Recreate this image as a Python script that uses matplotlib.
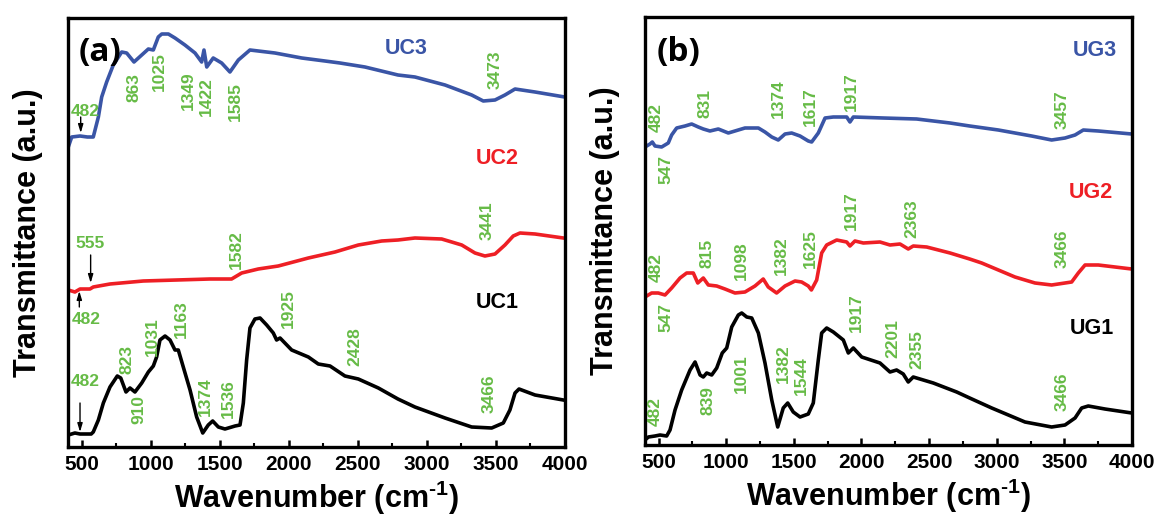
import matplotlib
matplotlib.use("Agg")
import matplotlib.pyplot as plt
from matplotlib.ticker import MultipleLocator

plt.rcParams['font.family'] = ['Liberation Sans', 'DejaVu Sans']
plt.rcParams['font.weight'] = 'bold'
plt.rcParams['mathtext.fontset'] = 'custom'
plt.rcParams['mathtext.rm'] = 'Liberation Sans:bold'
plt.rcParams['mathtext.bf'] = 'Liberation Sans:bold'
plt.rcParams['mathtext.default'] = 'bf'

# ---------------- Panel (a) data ----------------
uc3_w = [402, 427, 487, 540, 583, 620, 644, 680, 728, 789, 825, 878, 934, 982, 1018, 1054, 1079,
         1127, 1175, 1247, 1320, 1368, 1385, 1405, 1452, 1513, 1573, 1634, 1718, 1899, 2093, 2261,
         2370, 2551, 2790, 2913, 3131, 3324, 3408, 3493, 3565, 3638, 3783, 3998]
uc3_t = [300, 310, 311, 310, 310, 330, 350, 365, 382, 395, 394, 385, 392, 398, 397, 410, 413,
         413, 409, 402, 394, 385, 397, 380, 389, 384, 375, 387, 397, 394, 389, 386,
         384, 380, 372, 370, 362, 352, 346, 347, 352, 358, 355, 350]

uc2_w = [402, 450, 487, 559, 583, 704, 945, 1187, 1428, 1537, 1585, 1658, 1778, 1923, 2141, 2334,
         2503, 2672, 2790, 2913, 3107, 3252, 3348, 3420, 3493, 3565, 3625, 3674, 3783, 3988]
uc2_t = [157, 155, 158, 158, 160, 163, 166, 167, 168, 168, 168, 174, 178, 181, 189, 195,
         202, 206, 207, 209, 208, 202, 194, 191, 193, 202, 211, 214, 213, 209]

uc1_w = [402, 450, 487, 568, 583, 620, 656, 704, 757, 782, 820, 849, 885, 934, 982, 1018, 1042,
         1066, 1103, 1139, 1175, 1199, 1235, 1284, 1332, 1376, 1416, 1448, 1489, 1537, 1586, 1610,
         1646, 1670, 1694, 1718, 1754, 1791, 1839, 1887, 1911, 1936, 2020, 2141, 2213, 2298, 2406,
         2503, 2648, 2790, 2913, 3131, 3324, 3469, 3553, 3601, 3638, 3667, 3783, 3988]
uc1_t = [12, 14, 13, 13, 15, 27, 44, 60, 71, 69, 55, 59, 55, 64, 75, 81, 90,
         107, 111, 107, 97, 97, 80, 57, 30, 14, 22, 26, 20, 18, 20, 21,
         22, 44, 87, 119, 128, 129, 122, 114, 107, 109, 97, 90, 83, 81, 71,
         68, 59, 48, 40, 29, 20, 19, 24, 37, 54, 58, 52, 47]

# ---------------- Panel (b) data ----------------
ug3_w = [400, 437, 454, 474, 523, 572, 597, 634, 696, 745, 794, 831, 880, 942, 1016, 1065, 1139,
         1238, 1287, 1337, 1385, 1435, 1484, 1546, 1607, 1632, 1681, 1731, 1792, 1891, 1915, 1940,
         2161, 2408, 2655, 2800, 3012, 3258, 3406, 3505, 3579, 3640, 3751, 3998]
ug3_t = [300, 303, 305, 301, 300, 304, 312, 319, 321, 323, 320, 318, 316, 318, 314, 316, 319,
         319, 315, 310, 307, 313, 314, 311, 306, 305, 314, 329, 330, 330, 325, 330,
         329, 328, 324, 321, 317, 311, 307, 309, 312, 317, 316, 313]

ug2_w = [400, 449, 498, 548, 597, 659, 708, 757, 790, 831, 868, 930, 991, 1065, 1139, 1213, 1274,
         1311, 1373, 1435, 1509, 1558, 1607, 1630, 1669, 1706, 1743, 1817, 1891, 1915, 1952, 2014,
         2137, 2211, 2285, 2346, 2383, 2482, 2655, 2800, 2889, 3135, 3283, 3406, 3554, 3603, 3653,
         3751, 3998]
ug2_t = [150, 154, 154, 152, 159, 169, 174, 174, 164, 169, 162, 161, 158, 154, 155, 161, 168,
         160, 154, 161, 166, 165, 161, 157, 167, 194, 202, 207, 205, 201, 206, 204,
         205, 202, 203, 198, 201, 200, 194, 188, 184, 170, 164, 162, 165, 174, 182,
         182, 178]

ug1_w = [400, 425, 474, 511, 560, 585, 622, 671, 733, 770, 807, 831, 856, 893, 930, 971, 1004,
         1041, 1090, 1115, 1152, 1189, 1238, 1287, 1337, 1381, 1422, 1455, 1496, 1546, 1607, 1644,
         1681, 1706, 1743, 1792, 1866, 1903, 1940, 2002, 2137, 2211, 2260, 2309, 2346, 2383, 2531,
         2704, 2800, 2963, 3209, 3406, 3505, 3579, 3628, 3677, 3800, 3998]
ug1_t = [7, 10, 11, 12, 11, 17, 37, 57, 77, 85, 72, 70, 74, 72, 79, 94, 99,
         120, 132, 134, 130, 129, 114, 84, 47, 20, 39, 44, 35, 30, 33, 44,
         87, 114, 119, 115, 107, 94, 99, 90, 84, 75, 77, 73, 65, 70, 64,
         55, 49, 39, 25, 20, 22, 29, 39, 41, 38, 34]

# ---------------- Annotations ----------------
# (text, wavenumber, height, rotation)
ann_a = [("863", 878, 359, 90), ("1025", 1059, 375, 90), ("1349", 1272, 356, 90),
         ("1422", 1400, 350, 90), ("1585", 1614, 345, 90), ("3473", 3493, 377, 90),
         ("3441", 3433, 226, 90), ("1582", 1622, 197, 90),
         ("823", 830, 88, 90), ("910", 917, 37, 90), ("1031", 1011, 110, 90),
         ("1163", 1223, 128, 90), ("1374", 1392, 50, 90), ("1536", 1561, 48, 90),
         ("1925", 1996, 138, 90), ("2428", 2479, 100, 90), ("3466", 3449, 53, 90),
         ("482", 523, 336, 0), ("555", 559, 204, 0), ("482", 530, 127, 0), ("482", 523, 65, 0)]
arrows_a = [(492, 330, 314), (564, 192, 164), (482, 140, 156), (487, 44, 15)]
names_a = [("UC3", 2848, 398, "#3a55a6"), ("UC2", 3510, 288, "#ee1f25"), ("UC1", 3510, 144, "black")]

ann_b = [("482", 486, 330, 90), ("547", 555, 278, 90), ("831", 846, 343, 90),
         ("1374", 1386, 348, 90), ("1617", 1620, 340, 90), ("1917", 1928, 355, 90),
         ("3457", 3485, 337, 90),
         ("482", 486, 179, 90), ("547", 555, 129, 90), ("815", 856, 194, 90),
         ("1098", 1115, 186, 90), ("1382", 1410, 191, 90), ("1625", 1620, 198, 90),
         ("1917", 1928, 236, 90), ("2363", 2371, 228, 90), ("3466", 3485, 198, 90),
         ("482", 479, 36, 90), ("839", 868, 46, 90), ("1001", 1115, 73, 90),
         ("1382", 1422, 83, 90), ("1544", 1558, 71, 90), ("1917", 1965, 134, 90),
         ("2201", 2235, 108, 90), ("2355", 2408, 97, 90), ("3466", 3480, 55, 90)]
names_b = [("UG3", 3726, 397, "#3a55a6"), ("UG2", 3695, 255, "#ee1f25"), ("UG1", 3707, 119, "black")]

BLUE = "#3a55a6"
RED = "#ee1f25"
GREEN = "#66bb46"

fig = plt.figure(figsize=(11.62, 5.18), dpi=100)
axa = fig.add_axes([68 / 1162, 1 - 447 / 518, 497 / 1162, 429 / 518])
axb = fig.add_axes([645 / 1162, 1 - 445 / 518, 487 / 1162, 428 / 518])

def style(ax, ylim):
    ax.set_xlim(400, 4000)
    ax.set_ylim(*ylim)
    ax.xaxis.set_major_locator(MultipleLocator(500))
    ax.xaxis.set_minor_locator(MultipleLocator(250))
    ax.set_xticks([500, 1000, 1500, 2000, 2500, 3000, 3500, 4000])
    ax.tick_params(axis='x', which='major', direction='in', length=5, width=1.8,
                   labelsize=15, pad=6, top=False)
    ax.tick_params(axis='x', which='minor', direction='in', length=3, width=1.5, top=False)
    ax.set_yticks([])
    for s in ax.spines.values():
        s.set_linewidth(2.4)
    for lab in ax.get_xticklabels():
        lab.set_fontweight('bold')
    ax.set_xlabel(r"Wavenumber (cm$^{\text{-1}}$)", fontsize=22, fontweight='bold', labelpad=3)
    ax.set_ylabel("Transmittance (a.u.)", fontsize=22, fontweight='bold', labelpad=18)

lw = 2.6
axa.plot(uc3_w, uc3_t, color=BLUE, lw=lw)
axa.plot(uc2_w, uc2_t, color=RED, lw=lw)
axa.plot(uc1_w, uc1_t, color="black", lw=lw)
axb.plot(ug3_w, ug3_t, color=BLUE, lw=lw)
axb.plot(ug2_w, ug2_t, color=RED, lw=lw)
axb.plot(ug1_w, ug1_t, color="black", lw=lw)

style(axa, (0, 429))
style(axb, (2, 430))

for txt, x, y, r in ann_a:
    axa.text(x, y, txt, rotation=r, ha='center', va='center', color=GREEN,
             fontsize=12.5, fontweight='bold')
for x, y0, y1 in arrows_a:
    axa.annotate("", xy=(x, y1), xytext=(x, y0),
                 arrowprops=dict(arrowstyle='-|>,head_length=0.5,head_width=0.15',
                                 color='black', lw=1.0, shrinkA=0, shrinkB=0))
for txt, x, y, c in names_a:
    axa.text(x, y, txt, ha='center', va='center', color=c, fontsize=15.5, fontweight='bold')

for txt, x, y, r in ann_b:
    axb.text(x, y, txt, rotation=r, ha='center', va='center', color=GREEN,
             fontsize=12.5, fontweight='bold')
for txt, x, y, c in names_b:
    axb.text(x, y, txt, ha='center', va='center', color=c, fontsize=15.5, fontweight='bold')

axa.text(632, 395, "(a)", ha='center', va='center', fontsize=24, fontweight='bold',
         family=['Open Sans', 'DejaVu Sans'])
axb.text(651, 394, "(b)", ha='center', va='center', fontsize=24, fontweight='bold',
         family=['Open Sans', 'DejaVu Sans'])

fig.savefig("out.png", dpi=100)
